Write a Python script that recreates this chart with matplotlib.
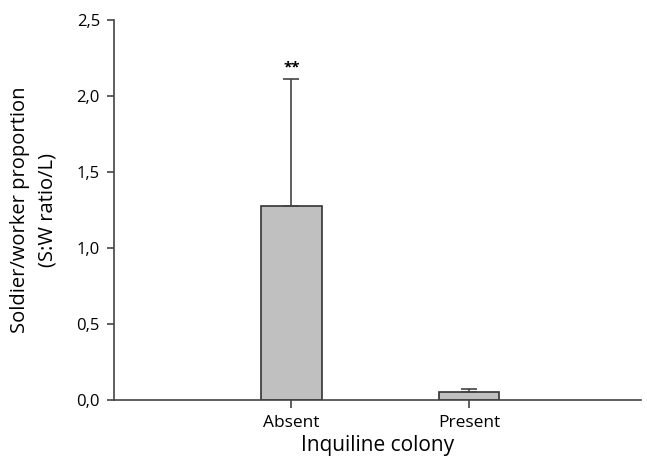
import matplotlib.pyplot as plt
from matplotlib.ticker import FuncFormatter

categories = ['Absent', 'Present']
means = [1.28, 0.055]
errors_up = [0.83, 0.02]
yticks = [0.0, 0.5, 1.0, 1.5, 2.0, 2.5]

plt.rcParams['font.family'] = ['Open Sans', 'DejaVu Sans']

fig = plt.figure(figsize=(6.47, 4.59), dpi=100)
ax = fig.add_axes([0.176, 0.1285, 0.815, 0.8275])

pos = [1, 2]
ax.bar(pos, means, width=0.34, color='#c0c0c0', edgecolor='#333333', linewidth=1.2, zorder=2)
ax.errorbar(pos, means, yerr=[[0, 0], errors_up], fmt='none', ecolor='#444444',
            elinewidth=1.2, capsize=5.5, capthick=1.2, zorder=3)
ax.text(pos[0], means[0] + errors_up[0] + 0.03, '**', ha='center', va='bottom',
        fontsize=11, fontweight='bold')

ax.set_xlim(0, 2.97)
ax.set_ylim(0, 2.5)
ax.set_xticks(pos)
ax.set_xticklabels(categories, fontsize=12.5)
ax.set_yticks(yticks)
ax.yaxis.set_major_formatter(FuncFormatter(lambda v, p: f'{v:.1f}'.replace('.', ',')))
ax.tick_params(axis='y', labelsize=12, direction='out', length=5, width=1.2, color='#444444', pad=5)
ax.tick_params(axis='x', direction='out', length=6, width=1.2, color='#444444', pad=5)

for s in ['top', 'right']:
    ax.spines[s].set_visible(False)
for s in ['left', 'bottom']:
    ax.spines[s].set_color('#444444')
    ax.spines[s].set_linewidth(1.2)

ax.set_xlabel('Inquiline colony', fontsize=15, labelpad=3)
ax.set_ylabel('Soldier/worker proportion\n(S:W ratio/L)', fontsize=14.5, labelpad=14, linespacing=1.45)

fig.savefig('out.png', dpi=100)
